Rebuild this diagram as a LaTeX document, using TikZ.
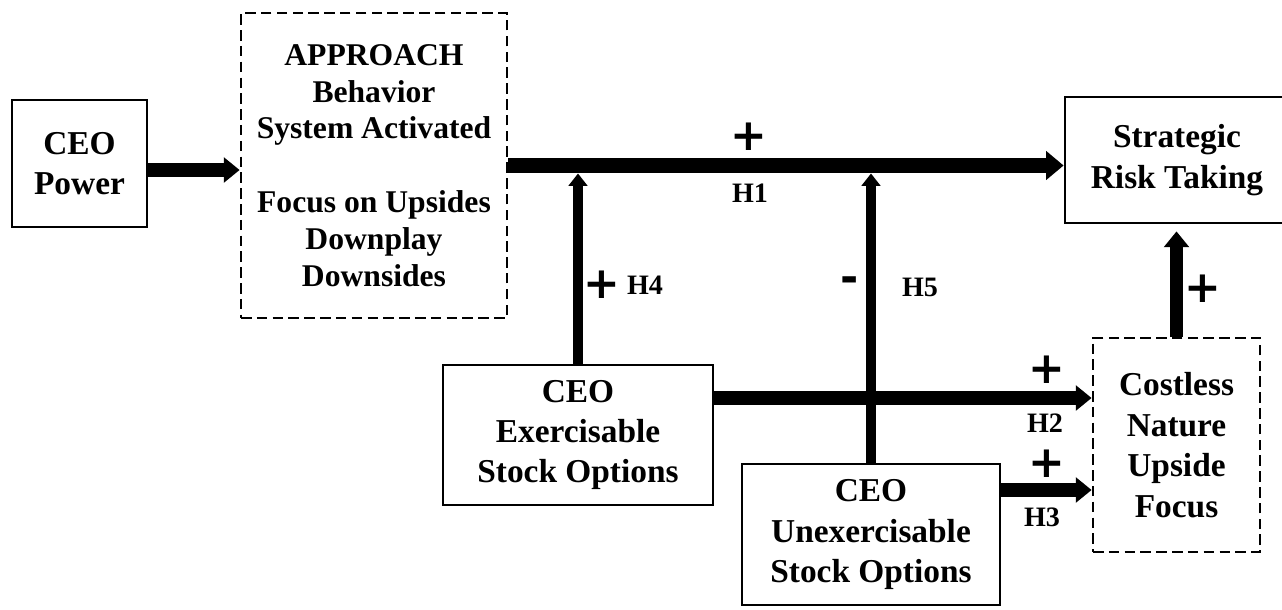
\documentclass[tikz,border=0pt]{standalone}
\usepackage{fontspec}
\setmainfont{Liberation Serif}
\newfontfamily\signfont{DejaVu Sans}
\usepackage{tikz}
\usetikzlibrary{
  positioning,
  calc,
  arrows.meta
}

\tikzset{
  cbox/.style={draw,line width=1.6pt,align=center,inner sep=0pt,
    font=\fontsize{19}{23}\selectfont\bfseries},
  dashbox/.style={cbox,dash pattern=on 6pt off 3pt},
  mainarr/.style={line width=8.5pt,-{Triangle[length=10pt,width=16pt]}},
  bigarr/.style={line width=7.5pt,-{Triangle[length=9pt,width=14pt]}},
  midarr/.style={line width=5.7pt,-{Triangle[length=7pt,width=10.5pt]}},
  sign/.style={inner sep=0pt,font=\signfont\fontsize{25}{25}\selectfont\bfseries},
  hlab/.style={inner sep=0pt,font=\fontsize{16}{16}\selectfont\bfseries}
}

\begin{document}
\begin{tikzpicture}[x=0.02cm,y=-0.02cm]
  \useasboundingbox (0,0) rectangle (1282,609);

  % boxes
  \node[cbox,minimum width=2.7cm,minimum height=2.54cm] (power) at (79.5,163.5) {CEO\\Power};
  \node[dashbox,font=\fontsize{18}{21}\selectfont\bfseries,minimum width=5.32cm,minimum height=6.1cm]
    (approach) at (374,165.5)
    {APPROACH\\Behavior\\System Activated\\[21pt]Focus on Upsides\\Downplay\\Downsides};
  \node[cbox,minimum width=4.48cm,minimum height=2.52cm] (risk) at (1177,160) {Strategic\\Risk Taking};
  \node[dashbox,minimum width=3.34cm,minimum height=4.28cm] (costless) at (1176.5,445)
    {Costless\\Nature\\Upside\\Focus};
  \node[cbox,minimum width=5.4cm,minimum height=2.8cm] (exer) at (578,435)
    {CEO\\Exercisable\\Stock Options};
  \node[cbox,minimum width=5.16cm,minimum height=2.82cm] (unexer) at (871,534.5)
    {CEO\\Unexercisable\\Stock Options};

  % end points
  \path (power.east) ++(0,6.5) coordinate (pw);
  \path (exer.north |- approach.east) ++(0,8) coordinate (h4top);
  \path (unexer.north |- approach.east) ++(0,8) coordinate (h5top);
  \path (exer.east) ++(0,-37) coordinate (h2s);
  \path (unexer.east) ++(0,-44.5) coordinate (h3s);
  \path (costless.north |- risk.south) ++(0,7) coordinate (upend);

  % arrows
  \draw[bigarr] (pw) -- (pw -| approach.west);
  \draw[mainarr] (approach.east) -- (approach.east -| risk.west);
  \draw[midarr] (exer.north) -- (h4top);
  \draw[midarr] (unexer.north) -- (h5top);
  \draw[bigarr] (h2s) -- (h2s -| costless.west);
  \draw[bigarr] (h3s) -- (h3s -| costless.west);
  \draw[bigarr] (costless.north) -- (upend);

  % signs and hypotheses
  \node[sign] (p1) at (749,137) {+};
  \node[hlab] (l1) at (750,193) {H1};
  \node[sign] (p4) at (602,285) {+};
  \node[hlab] (l4) at (645,285) {H4};
  \node[sign] (m5) at (850,285) {-};
  \node[hlab] (l5) at (920,287) {H5};
  \node[sign] (p2) at (1047,370) {+};
  \node[hlab] (l2) at (1045,423) {H2};
  \node[sign] (p3) at (1047,464) {+};
  \node[hlab] (l3) at (1042,517) {H3};
  \node[sign] (p6) at (1203,289) {+};
\end{tikzpicture}
\end{document}
